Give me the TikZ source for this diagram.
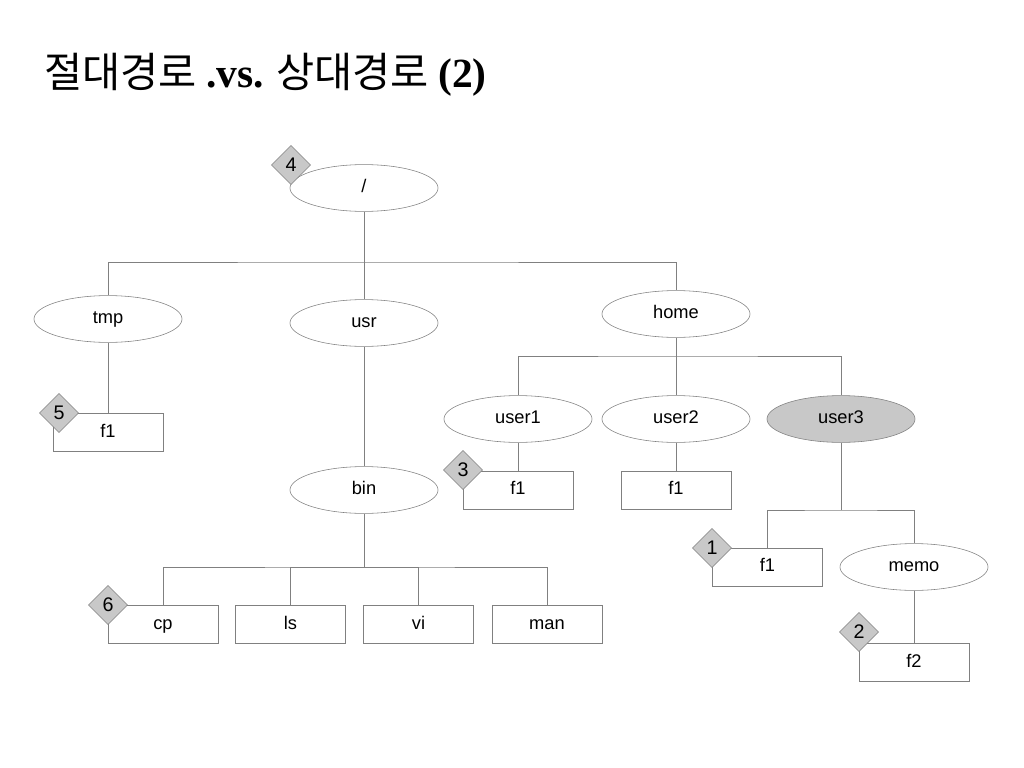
\documentclass[tikz,border=0pt]{standalone}
\usepackage{fontspec}
\setmainfont{Liberation Sans}
\newfontfamily\krfont{Noto Sans CJK KR}
\newfontfamily\titleserif{Liberation Serif}
\usetikzlibrary{shapes.geometric}
\definecolor{linegray}{RGB}{128,128,128}
\definecolor{fillgray}{RGB}{200,200,200}

\begin{document}
\begin{tikzpicture}[x=0.025cm, y=-0.025cm,
    dir/.style={ellipse, draw=linegray, minimum width=3.7cm, minimum height=1.17cm, text height=9.5pt, text depth=3pt, font=\fontsize{13}{15}\selectfont},
    file/.style={rectangle, draw=linegray, minimum width=2.75cm, minimum height=0.95cm, text height=9.5pt, text depth=3pt, font=\fontsize{13}{15}\selectfont},
    tag/.style={diamond, draw=linegray, fill=fillgray, aspect=1, minimum size=0.98cm, inner sep=0pt, font=\fontsize{14}{15}\selectfont},
    link/.style={draw=linegray}]
      \useasboundingbox (0,0) rectangle (1024,768);
      \node[anchor=base west, inner sep=0pt, font=\fontsize{29.5}{32}\selectfont] (title) at (44,88) {\krfont 절대경로 {\titleserif\bfseries .vs.} 상대경로 {\titleserif\bfseries (2)}};
      \node[dir] (root) at (364,188) {/};
      \node[dir] (tmp) at (108,319) {tmp};
      \node[dir] (usr) at (364,323) {usr};
      \node[dir] (home) at (676,314) {home};
      \node[file] (tmpf1) at (108,432.5) {f1};
      \node[dir] (bin) at (364,490) {bin};
      \node[file] (cp) at (163,624.5) {cp};
      \node[file] (ls) at (290.5,624.5) {ls};
      \node[file] (vi) at (418.5,624.5) {vi};
      \node[file] (man) at (547,624.5) {man};
      \node[dir] (user1) at (518,419) {user1};
      \node[dir] (user2) at (676,419) {user2};
      \node[dir, fill=fillgray] (user3) at (841,419) {user3};
      \node[file] (u1f1) at (518,490) {f1};
      \node[file] (u2f1) at (676,490) {f1};
      \node[file] (u3f1) at (767.5,567) {f1};
      \node[dir] (memo) at (914,567) {memo};
      \node[file] (f2) at (914,662.5) {f2};
      \coordinate (rootbus) at (364,262);
      \coordinate (binbus) at (364,567);
      \coordinate (homebus) at (676,356);
      \coordinate (user3bus) at (841,510);
      \draw[link] (root) -- (usr);
      \draw[link] (tmp) |- (rootbus) -| (home);
      \draw[link] (tmp) -- (tmpf1);
      \draw[link] (usr) -- (bin);
      \draw[link] (bin) -- (binbus);
      \draw[link] (cp) |- (binbus) -| (man);
      \draw[link] (ls) |- (binbus);
      \draw[link] (vi) |- (binbus);
      \draw[link] (home) -- (user2);
      \draw[link] (user1) |- (homebus) -| (user3);
      \draw[link] (user1) -- (u1f1);
      \draw[link] (user2) -- (u2f1);
      \draw[link] (user3) -- (user3bus);
      \draw[link] (u3f1) |- (user3bus) -| (memo);
      \draw[link] (memo) -- (f2);
      \node[tag] (t4) at (291,165) {4};
      \node[tag] (t5) at (59,413) {5};
      \node[tag] (t3) at (463,470) {3};
      \node[tag] (t6) at (108,605) {6};
      \node[tag] (t1) at (712,548) {1};
      \node[tag] (t2) at (859,632) {2};
\end{tikzpicture}
\end{document}
